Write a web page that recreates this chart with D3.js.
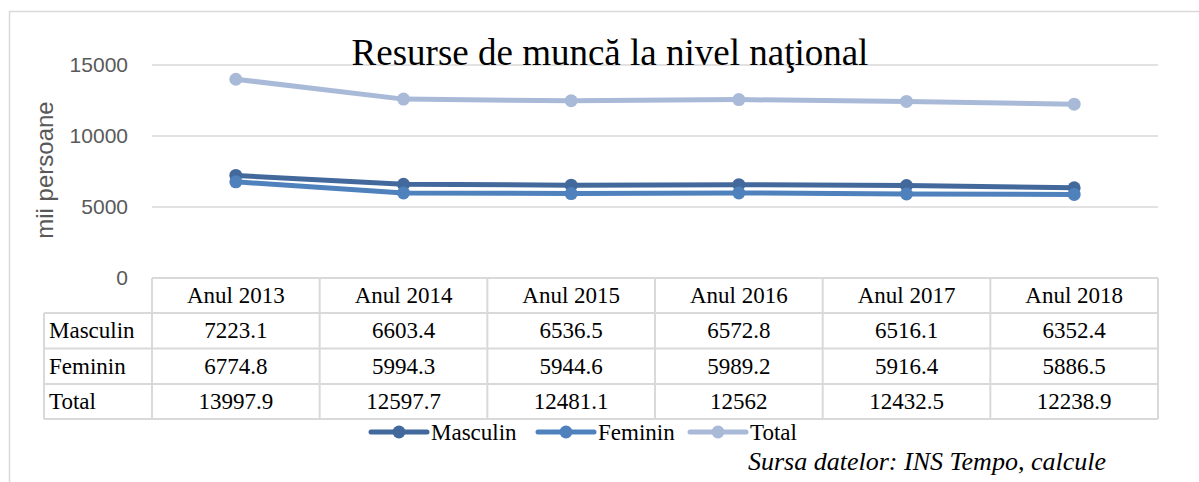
<!DOCTYPE html>
<html>
<head>
<meta charset="utf-8">
<script src="https://cdn.jsdelivr.net/npm/d3@7"></script>
<style>
body { margin: 0; background: #fff; }
.render svg { display: block; }
</style>
</head>
<body>
<div class="render"></div>
<script>
"use strict";

var years = ['Anul 2013', 'Anul 2014', 'Anul 2015', 'Anul 2016', 'Anul 2017', 'Anul 2018'];
var masculin = [7223.1, 6603.4, 6536.5, 6572.8, 6516.1, 6352.4];
var feminin = [6774.8, 5994.3, 5944.6, 5989.2, 5916.4, 5886.5];
var total = [13997.9, 12597.7, 12481.1, 12562, 12432.5, 12238.9];
var seriesNames = ['Masculin', 'Feminin', 'Total'];
var seriesColors = ['#43699c', '#4f81bd', '#a9bad9'];
var yTicks = [0, 5000, 10000, 15000];

var w = 1199;
var h = 482;
var serif = "'Liberation Serif', 'Times New Roman', serif";
var sans = "'Liberation Sans', Arial, sans-serif";
var grid = '#d9d9d9';

var series = [masculin, feminin, total];

var svg = d3.select('.render').append('svg').attr('width', w).attr('height', h);

// chart frame (runs off the page right and bottom)
svg.append('path').attr('d', 'M9.5,' + h + 'V11.5H' + w).attr('fill', 'none').attr('stroke', grid).attr('stroke-width', 1.5);

var xScale = d3.scaleBand().domain(years).range([152, 1158]);
var yScale = d3.scaleLinear().domain([0, 15000]).range([278, 65]);

svg.append('g').selectAll('line').data(yTicks.filter(function (d) { return d > 0; })).enter().append('line')
   .attr('x1', 152).attr('x2', 1158)
   .attr('y1', function (d) { return yScale(d); }).attr('y2', function (d) { return yScale(d); })
   .attr('stroke', grid).attr('stroke-width', 1.5);

var yAxis = d3.axisLeft(yScale).tickValues(yTicks).tickFormat(d3.format('d')).tickSize(0).tickPadding(0);
var gy = svg.append('g').attr('transform', 'translate(128,0)').call(yAxis);
gy.select('.domain').remove();
gy.selectAll('text').style('font-family', sans).style('font-size', '21px').attr('fill', '#595959');

svg.append('text').text('mii persoane').attr('transform', 'translate(53,170)rotate(-90)')
   .attr('text-anchor', 'middle').style('font-family', sans).style('font-size', '24px').attr('fill', '#595959');

svg.append('text').text('Resurse de muncă la nivel naţional').attr('x', 610).attr('y', 65)
   .attr('text-anchor', 'middle').style('font-family', serif).style('font-size', '37px').attr('fill', '#000');

var line = d3.line().x(function (d, i) { return xScale(years[i]) + xScale.bandwidth() / 2; }).y(function (d) { return yScale(d); });

series.forEach(function (s, k) {
   var g = svg.append('g');
   g.append('path').datum(s).attr('d', line).attr('fill', 'none').attr('stroke', seriesColors[k]).attr('stroke-width', 5).attr('stroke-linejoin', 'round');
   g.selectAll('circle').data(s).enter().append('circle')
      .attr('cx', function (d, i) { return xScale(years[i]) + xScale.bandwidth() / 2; })
      .attr('cy', function (d) { return yScale(d); })
      .attr('r', 6.5).attr('fill', seriesColors[k]);
});

// data table under the plot
var rowTops = [278, 313, 348.5, 384, 419];
var labelX = 44;
var table = svg.append('g');

table.selectAll('text.head').data(years).enter().append('text').attr('class', 'head').text(function (d) { return d; })
   .attr('x', function (d) { return xScale(d) + xScale.bandwidth() / 2; })
   .attr('y', (rowTops[0] + rowTops[1]) / 2 + 7.5)
   .attr('text-anchor', 'middle').style('font-family', serif).style('font-size', '23px');

series.forEach(function (s, k) {
   var yb = (rowTops[k + 1] + rowTops[k + 2]) / 2 + 7.5;
   table.append('text').text(seriesNames[k]).attr('x', labelX + 5).attr('y', yb).style('font-family', serif).style('font-size', '23px');
   table.selectAll('text.v' + k).data(s).enter().append('text').attr('class', 'v' + k).text(function (d) { return String(d); })
      .attr('x', function (d, i) { return xScale(years[i]) + xScale.bandwidth() / 2; })
      .attr('y', yb).attr('text-anchor', 'middle').style('font-family', serif).style('font-size', '23px');
});

var tl = table.append('g').attr('stroke', grid).attr('stroke-width', 2);
tl.append('line').attr('x1', 152).attr('x2', 1158).attr('y1', rowTops[0]).attr('y2', rowTops[0]);
for (var r = 1; r < rowTops.length; r++) {
   tl.append('line').attr('x1', labelX).attr('x2', 1158).attr('y1', rowTops[r]).attr('y2', rowTops[r]);
}
tl.append('line').attr('x1', labelX).attr('x2', labelX).attr('y1', rowTops[1]).attr('y2', rowTops[4]);
years.forEach(function (d) {
   tl.append('line').attr('x1', xScale(d)).attr('x2', xScale(d)).attr('y1', rowTops[0]).attr('y2', rowTops[4]);
});
tl.append('line').attr('x1', 1158).attr('x2', 1158).attr('y1', rowTops[0]).attr('y2', rowTops[4]);

// legend
var legendX = [371, 538, 690];
var leg = svg.append('g');
seriesNames.forEach(function (name, k) {
   var x0 = legendX[k];
   leg.append('line').attr('x1', x0).attr('x2', x0 + 56).attr('y1', 432).attr('y2', 432)
      .attr('stroke', seriesColors[k]).attr('stroke-width', 5).attr('stroke-linecap', 'round');
   leg.append('circle').attr('cx', x0 + 28).attr('cy', 432).attr('r', 6.5).attr('fill', seriesColors[k]);
   leg.append('text').text(name).attr('x', x0 + 60).attr('y', 440).style('font-family', serif).style('font-size', '23px');
});

svg.append('text').text('Sursa datelor: INS Tempo, calcule').attr('x', 748).attr('y', 470)
   .style('font-family', serif).style('font-size', '26px').style('font-style', 'italic');
</script>
</body>
</html>
